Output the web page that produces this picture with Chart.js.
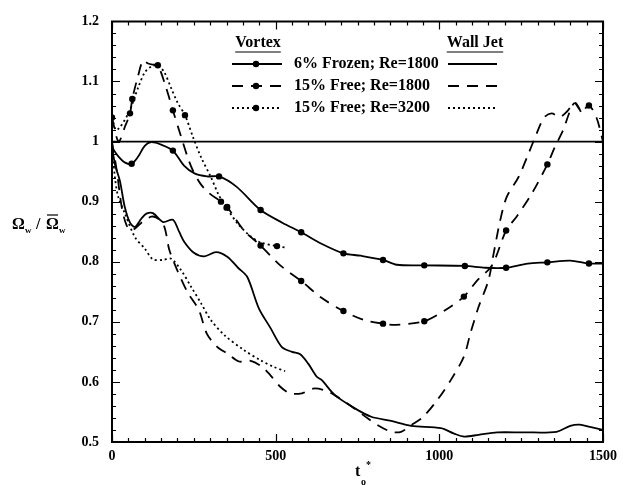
<!DOCTYPE html>
<html>
<head>
<meta charset="utf-8">
<script src="https://cdn.jsdelivr.net/npm/chart.js@4.4.1/dist/chart.umd.min.js"></script>
<style>
  html, body { margin: 0; padding: 0; background: #fff; }
</style>
</head>
<body>
<canvas id="chart" width="623" height="485"></canvas>
<script>
// Vortex curves (with dots) and wall jet curves (no dots), omega ratio vs t_o*
const vortexFrozenT = [0, 20, 40, 60, 80, 100, 120, 150, 186, 220, 252, 290, 327, 380, 454, 520, 578, 640, 707, 760, 828, 870, 954, 1078, 1140, 1204, 1270, 1330, 1400, 1457, 1500];
const vortexFrozenW = [0.99, 0.975, 0.965, 0.963, 0.975, 0.993, 0.999, 0.995, 0.985, 0.96, 0.947, 0.942, 0.942, 0.925, 0.886, 0.865, 0.849, 0.83, 0.814, 0.81, 0.803, 0.795, 0.794, 0.793, 0.79, 0.79, 0.797, 0.799, 0.802, 0.797, 0.797];
const vortexFrozenDots = [60, 186, 327, 454, 578, 707, 828, 954, 1078, 1204, 1330, 1457];

const vortexFree1800T = [0, 20, 39, 55, 62, 80, 95, 110, 125, 140, 165, 186, 210, 231, 247, 270, 295, 333, 352, 403, 454, 514, 578, 640, 707, 770, 828, 867, 954, 1020, 1075, 1116, 1161, 1204, 1236, 1282, 1330, 1353, 1378, 1398, 1413, 1435, 1457, 1480, 1500];
const vortexFree1800W = [1.04, 1.0, 1.024, 1.047, 1.071, 1.11, 1.135, 1.13, 1.128, 1.127, 1.09, 1.052, 1.01, 0.974, 0.952, 0.93, 0.915, 0.9, 0.891, 0.852, 0.827, 0.794, 0.768, 0.74, 0.718, 0.703, 0.697, 0.695, 0.701, 0.72, 0.742, 0.769, 0.794, 0.852, 0.875, 0.913, 0.962, 0.991, 1.019, 1.049, 1.064, 1.05, 1.06, 1.04, 1.0];
const vortexFree1800Dots = [0, 55, 62, 140, 186, 333, 352, 454, 578, 707, 828, 954, 1075, 1204, 1330, 1457];

const vortexFree3200T = [0, 14, 50, 80, 100, 120, 140, 160, 180, 200, 223, 247, 272, 302, 327, 350, 383, 424, 454, 504, 535];
const vortexFree3200W = [1.04, 1.019, 1.047, 1.09, 1.115, 1.125, 1.127, 1.115, 1.09, 1.065, 1.044, 1.008, 0.974, 0.941, 0.91, 0.89, 0.864, 0.842, 0.832, 0.826, 0.823];
const vortexFree3200Dots = [223, 350, 504];

const wallFrozenT = [0, 10, 24, 39, 55, 70, 90, 105, 125, 156, 186, 205, 221, 250, 282, 318, 353, 385, 413, 449, 484, 519, 550, 575, 600, 625, 641, 681, 742, 792, 853, 914, 1005, 1045, 1076, 1120, 1177, 1260, 1358, 1400, 1429, 1460, 1500];
const wallFrozenW = [0.99, 0.96, 0.935, 0.891, 0.865, 0.858, 0.872, 0.88, 0.881, 0.866, 0.87, 0.85, 0.833, 0.815, 0.809, 0.816, 0.808, 0.79, 0.775, 0.722, 0.69, 0.658, 0.65, 0.646, 0.63, 0.609, 0.603, 0.578, 0.556, 0.542, 0.535, 0.527, 0.523, 0.514, 0.509, 0.512, 0.516, 0.516, 0.517, 0.527, 0.529, 0.525, 0.52];

const wallFree1800T = [0, 15, 30, 45, 60, 90, 120, 140, 160, 175, 200, 230, 265, 290, 322, 353, 388, 424, 459, 484, 514, 544, 580, 615, 650, 680, 730, 782, 812, 853, 883, 914, 949, 994, 1035, 1075, 1095, 1120, 1150, 1166, 1186, 1206, 1242, 1268, 1297, 1320, 1343, 1368, 1390, 1415, 1440];
const wallFree1800W = [1.0, 0.95, 0.89, 0.86, 0.852, 0.865, 0.875, 0.872, 0.858, 0.82, 0.785, 0.75, 0.72, 0.68, 0.658, 0.647, 0.634, 0.635, 0.625, 0.611, 0.592, 0.581, 0.581, 0.589, 0.586, 0.578, 0.56, 0.539, 0.528, 0.517, 0.517, 0.528, 0.541, 0.57, 0.603, 0.642, 0.681, 0.725, 0.769, 0.814, 0.869, 0.908, 0.941, 0.974, 1.013, 1.04, 1.047, 1.041, 1.05, 1.065, 1.04];

const wallFree3200T = [0, 9, 19, 39, 70, 100, 125, 155, 181, 211, 242, 272, 302, 343, 403, 454, 494, 529];
const wallFree3200W = [1.0, 0.94, 0.908, 0.881, 0.841, 0.822, 0.804, 0.803, 0.805, 0.786, 0.758, 0.731, 0.703, 0.678, 0.653, 0.636, 0.625, 0.618];

const refT = [0, 1500];
const refW = [1, 1];

const legendLabels = ['6% Frozen; Re=1800', '15% Free; Re=1800', '15% Free; Re=3200'];
const xTicks = [0, 500, 1000, 1500];
const X_MIN = 0, X_MAX = 1500, Y_MIN = 0.5, Y_MAX = 1.2;

const SOLID = [];
const DASH = [11, 8];
const DOT = [2, 3];
const FONT = 'Liberation Serif';

function pts(xs, ys) {
  return xs.map((x, i) => ({ x: x, y: ys[i] }));
}

function series(xs, ys, dash, dots) {
  return {
    data: pts(xs, ys),
    showLine: true,
    borderColor: '#000',
    backgroundColor: '#000',
    borderWidth: 1.8,
    borderDash: dash,
    tension: 0.3,
    pointRadius: c => (dots && c.raw && dots.includes(c.raw.x)) ? 3.2 : 0,
    pointBorderWidth: 0,
    pointHoverRadius: 0
  };
}

// frame plus inward minor/major ticks, placed from the scales themselves
function drawFrame(chart) {
  const ctx = chart.ctx;
  const xs = chart.scales.x, ys = chart.scales.y;
  const left = xs.getPixelForValue(X_MIN), right = xs.getPixelForValue(X_MAX);
  const top = ys.getPixelForValue(Y_MAX), bottom = ys.getPixelForValue(Y_MIN);
  ctx.save();
  ctx.setLineDash([]);
  ctx.globalAlpha = 1;
  ctx.globalCompositeOperation = 'source-over';
  ctx.strokeStyle = '#000';
  ctx.lineWidth = 2;
  ctx.beginPath();
  ctx.moveTo(left, top); ctx.lineTo(right, top); ctx.lineTo(right, bottom);
  ctx.lineTo(left, bottom); ctx.closePath();
  ctx.stroke();
  ctx.lineWidth = 1.2;
  ctx.beginPath();
  for (let v = X_MIN; v <= X_MAX; v += 50) {
    const px = Math.round(xs.getPixelForValue(v)) + 0.5;
    const len = v % 500 === 0 ? 8 : 4;
    ctx.moveTo(px, bottom); ctx.lineTo(px, bottom - len);
    ctx.moveTo(px, top); ctx.lineTo(px, top + len);
  }
  for (let k = 0; k <= 35; k++) {
    const py = Math.round(ys.getPixelForValue(Y_MIN + k * 0.02)) + 0.5;
    const len = k % 5 === 0 ? 8 : 4;
    ctx.moveTo(left, py); ctx.lineTo(left + len, py);
    ctx.moveTo(right, py); ctx.lineTo(right - len, py);
  }
  ctx.stroke();
  ctx.restore();
}

function drawText(chart) {
  const ctx = chart.ctx;
  ctx.save();
  ctx.setLineDash([]);
  ctx.fillStyle = '#000';
  ctx.strokeStyle = '#000';
  ctx.font = 'bold 16px "' + FONT + '"';
  ctx.textBaseline = 'middle';
  ctx.textAlign = 'center';
  const heads = [['Vortex', 258], ['Wall Jet', 475]];
  heads.forEach(([t, cx]) => {
    ctx.fillText(t, cx, 43);
    const w = ctx.measureText(t).width;
    ctx.lineWidth = 1.2;
    ctx.beginPath();
    ctx.moveTo(cx - w / 2, 52); ctx.lineTo(cx + w / 2, 52);
    ctx.stroke();
  });
  const rowsY = [64, 86, 108];
  const dashes = [SOLID, DASH, DOT];
  ctx.textAlign = 'left';
  rowsY.forEach((y, i) => {
    ctx.lineWidth = 1.8;
    ctx.setLineDash(dashes[i]);
    ctx.beginPath();
    ctx.moveTo(232, y); ctx.lineTo(282, y);
    ctx.moveTo(448, y); ctx.lineTo(497, y);
    ctx.stroke();
    ctx.setLineDash([]);
    ctx.beginPath();
    ctx.arc(256, y, 3.2, 0, Math.PI * 2);
    ctx.fill();
    ctx.fillText(legendLabels[i], 294, y);
  });

  // y axis title: Omega_w / Omega-bar_w
  ctx.font = 'bold 16px "' + FONT + '"';
  ctx.textBaseline = 'alphabetic';
  ctx.fillText('\u03A9', 12, 229);
  ctx.fillText('/', 36, 229);
  ctx.fillText('\u03A9', 46, 229);
  ctx.font = 'bold 9px "' + FONT + '"';
  ctx.fillText('w', 25, 233);
  ctx.fillText('w', 59, 233);
  ctx.lineWidth = 1.2;
  ctx.beginPath();
  ctx.moveTo(47, 215); ctx.lineTo(58, 215);
  ctx.stroke();

  // x axis title: t_o^*
  ctx.font = 'bold 16px "' + FONT + '"';
  ctx.fillText('t', 355, 476);
  ctx.font = 'bold 10px "' + FONT + '"';
  ctx.fillText('o', 361, 485);
  ctx.fillText('*', 366, 468);
  ctx.restore();
}

new Chart(document.getElementById('chart'), {
  type: 'scatter',
  data: {
    datasets: [
      Object.assign(series(refT, refW, SOLID, null), { tension: 0 }),
      series(vortexFrozenT, vortexFrozenW, SOLID, vortexFrozenDots),
      series(vortexFree1800T, vortexFree1800W, DASH, vortexFree1800Dots),
      series(vortexFree3200T, vortexFree3200W, DOT, vortexFree3200Dots),
      series(wallFrozenT, wallFrozenW, SOLID, null),
      series(wallFree1800T, wallFree1800W, DASH, null),
      series(wallFree3200T, wallFree3200W, DOT, null)
    ]
  },
  options: {
    responsive: false,
    animation: false,
    devicePixelRatio: 1,
    layout: { padding: { top: 21, right: 16, left: 0, bottom: 0 } },
    plugins: { legend: { display: false }, tooltip: { enabled: false } },
    scales: {
      x: {
        type: 'linear',
        min: X_MIN, max: X_MAX,
        grid: { display: false, drawTicks: false },
        border: { display: false },
        afterFit: s => { s.height = 43; },
        afterBuildTicks: s => { s.ticks = xTicks.map(v => ({ value: v })); },
        ticks: {
          padding: 6,
          color: '#000',
          maxRotation: 0,
          font: { family: FONT, size: 14, weight: 'bold' },
          callback: v => String(v)
        }
      },
      y: {
        min: Y_MIN, max: Y_MAX,
        grid: { display: false, drawTicks: false },
        border: { display: false },
        afterFit: s => { s.width = 112; },
        ticks: {
          stepSize: 0.1,
          padding: 13,
          color: '#000',
          font: { family: FONT, size: 14, weight: 'bold' },
          callback: v => Math.abs(v - 1) < 1e-6 ? '1' : v.toFixed(1)
        }
      }
    }
  },
  plugins: [{
    id: 'decor',
    afterDraw(chart) {
      drawFrame(chart);
      drawText(chart);
    }
  }]
});
</script>
</body>
</html>
